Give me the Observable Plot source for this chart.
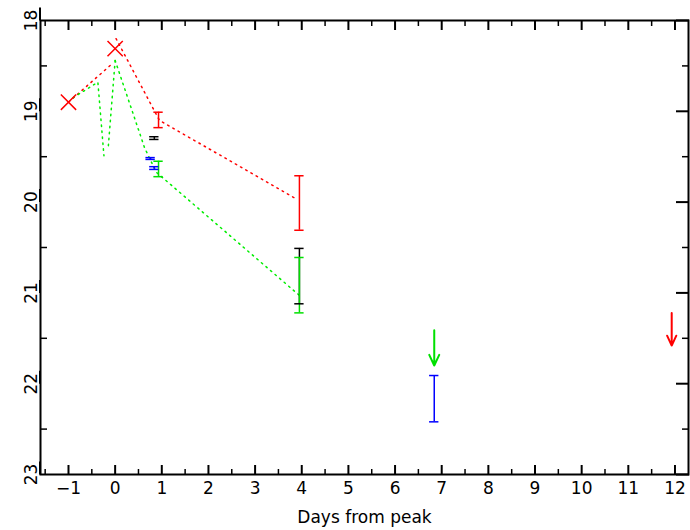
<!DOCTYPE html>
<html>
<head>
<meta charset="utf-8">
<script src="https://cdn.jsdelivr.net/npm/d3@7"></script>
<script src="https://cdn.jsdelivr.net/npm/@observablehq/plot@0.6"></script>
<style>
  body { margin: 0; background: #fff; }
  #chart svg { font-family: "DejaVu Sans", sans-serif; }
</style>
</head>
<body>
<div id="chart"></div>
<script>
// red detections (crosses)
const crossDays = [-1, 0];
const crossMags = [18.9, 18.31];

// error bars: day, low, high, colour
const barDays = [0.93, 3.95, 0.84, 0.76, 0.84, 0.93, 3.95, 3.95, 6.84];
const barLo = [19.01, 19.71, 19.28, 19.51, 19.61, 19.55, 20.51, 20.61, 21.91];
const barHi = [19.18, 20.31, 19.31, 19.53, 19.64, 19.72, 21.12, 21.22, 22.42];
const barColors = ["red", "red", "black", "blue", "blue", "#00e000", "black", "#00e000", "blue"];

// dotted model curves
const redLineA = { x: [-1, -0.05], y: [18.9, 18.47] };
const redLineB = { x: [0.02, 0.95, 3.9], y: [18.2, 19.1, 19.97] };
const greenA = { x: [-0.9, -0.37, -0.24], y: [18.85, 18.68, 19.49] };
const greenB = { x: [0, -0.15], y: [18.44, 19.41] };
const greenC = { x: [0, 0.63, 0.88, 4.0], y: [18.44, 19.4, 19.67, 21.05] };

// upper limits (arrows)
const limDays = [6.84, 11.93];
const limTop = [21.41, 21.22];
const limBottom = [21.8, 21.58];
const limColors = ["#00e000", "red"];

const toPts = (s) => s.x.map((x, i) => ({ x, y: s.y[i] }));
const bars = barDays.map((d, i) => ({ d, lo: barLo[i], hi: barHi[i], c: barColors[i] }));
const caps = bars.flatMap((b) => [
  { x1: b.d - 0.1, x2: b.d + 0.1, y: b.lo, c: b.c },
  { x1: b.d - 0.1, x2: b.d + 0.1, y: b.hi, c: b.c },
]);
const lims = limDays.map((d, i) => ({ d, y1: limTop[i], y2: limBottom[i], c: limColors[i] }));
const crosses = crossDays.map((d, i) => ({ d, m: crossMags[i] }));

const dots = "1.5,4.5";
const majorX = d3.range(-1, 13);
const minorX = d3.range(-1.5, 12.5, 1);
const majorY = d3.range(18, 24);
const minorY = d3.range(18.5, 23, 1);
const blank = () => "";

const chart = Plot.plot({
  width: 690,
  height: 530,
  marginLeft: 40,
  marginRight: 2,
  marginTop: 20,
  marginBottom: 56,
  style: { fontSize: "17px", fontFamily: "DejaVu Sans, sans-serif", color: "black" },
  x: { domain: [-1.6, 12.29] },
  y: { domain: [18, 23], reverse: true },
  marks: [
    Plot.frame({ stroke: "black", strokeWidth: 2 }),
    Plot.axisX({ ticks: majorX, tickSize: -9, tickFormat: (d) => (d < 0 ? "\u2212" + -d : d), tickPadding: 16, label: "Days from peak", labelAnchor: "center", labelArrow: "none", labelOffset: 48, strokeWidth: 2 }),
    Plot.axisX({ ticks: minorX, tickSize: -5, tickFormat: blank, strokeWidth: 1.5, label: null }),
    Plot.axisX({ anchor: "top", ticks: majorX, tickSize: -9, tickFormat: blank, label: null, strokeWidth: 2 }),
    Plot.axisX({ anchor: "top", ticks: minorX, tickSize: -5, tickFormat: blank, label: null, strokeWidth: 1.5 }),
    Plot.axisY({ ticks: majorY, tickSize: -13, tickFormat: "d", rotate: -90, tickPadding: 22, textAnchor: "middle", label: null, strokeWidth: 2 }),
    Plot.axisY({ ticks: minorY, tickSize: -7, tickFormat: blank, label: null, strokeWidth: 1.5 }),
    Plot.axisY({ anchor: "right", ticks: majorY, tickSize: -13, tickFormat: blank, label: null, strokeWidth: 2 }),
    Plot.axisY({ anchor: "right", ticks: minorY, tickSize: -7, tickFormat: blank, label: null, strokeWidth: 1.5 }),
    ...[redLineA, redLineB].map((s) => Plot.line(toPts(s), { x: "x", y: "y", stroke: "red", strokeWidth: 1.5, strokeDasharray: dots })),
    ...[greenA, greenB, greenC].map((s) => Plot.line(toPts(s), { x: "x", y: "y", stroke: "#00ee00", strokeWidth: 1.5, strokeDasharray: dots })),
    Plot.ruleX(bars, { x: "d", y1: "lo", y2: "hi", stroke: "c", strokeWidth: 1.5 }),
    Plot.ruleY(caps, { x1: "x1", x2: "x2", y: "y", stroke: "c", strokeWidth: 1.5 }),
    Plot.dot(crosses, { x: "d", y: "m", symbol: "times", r: 7, stroke: "red", strokeWidth: 1.5 }),
    Plot.arrow(lims, { x1: "d", x2: "d", y1: "y1", y2: "y2", stroke: "c", strokeWidth: 2, headLength: 14, headAngle: 50 }),
  ],
});
document.getElementById("chart").appendChild(chart);
</script>
</body>
</html>
